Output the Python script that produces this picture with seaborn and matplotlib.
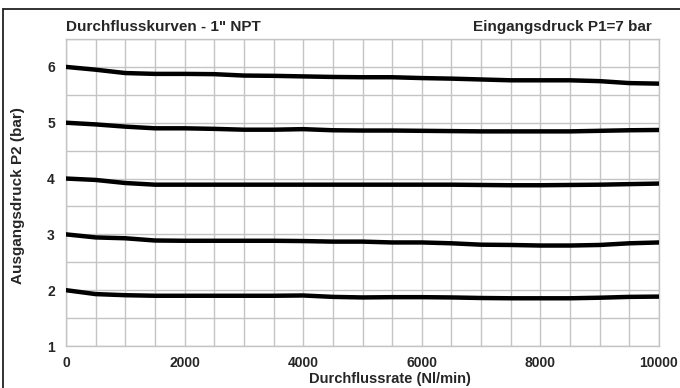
import numpy as np
import pandas as pd
import matplotlib
matplotlib.use("Agg")
import matplotlib.pyplot as plt
from matplotlib.lines import Line2D
from matplotlib.ticker import MultipleLocator
import seaborn as sns

flow = [0, 500, 1000, 1500, 2000, 2500, 3000, 3500, 4000, 4500, 5000,
        5500, 6000, 6500, 7000, 7500, 8000, 8500, 9000, 9500, 10000]
p2_6 = [6.00, 5.95, 5.89, 5.875, 5.875, 5.87, 5.845, 5.84, 5.83, 5.82, 5.815,
        5.815, 5.80, 5.79, 5.775, 5.76, 5.76, 5.76, 5.745, 5.71, 5.70]
p2_5 = [5.00, 4.97, 4.93, 4.90, 4.90, 4.89, 4.875, 4.875, 4.885, 4.865, 4.86,
        4.86, 4.855, 4.85, 4.845, 4.845, 4.845, 4.845, 4.855, 4.865, 4.87]
p2_4 = [4.00, 3.975, 3.92, 3.89, 3.89, 3.89, 3.89, 3.89, 3.89, 3.89, 3.89,
        3.89, 3.89, 3.89, 3.885, 3.88, 3.88, 3.885, 3.89, 3.90, 3.91]
p2_3 = [3.00, 2.945, 2.93, 2.89, 2.885, 2.885, 2.885, 2.885, 2.88, 2.87, 2.87,
        2.855, 2.855, 2.84, 2.815, 2.81, 2.80, 2.80, 2.81, 2.84, 2.855]
p2_2 = [2.00, 1.93, 1.91, 1.90, 1.90, 1.90, 1.90, 1.90, 1.905, 1.88, 1.87,
        1.875, 1.875, 1.87, 1.86, 1.855, 1.855, 1.855, 1.865, 1.88, 1.885]
series_names = ["6 bar", "5 bar", "4 bar", "3 bar", "2 bar"]
series_vals = [p2_6, p2_5, p2_4, p2_3, p2_2]

title_left = 'Durchflusskurven - 1" NPT'
title_right = "Eingangsdruck P1=7 bar"
xlabel = "Durchflussrate (Nl/min)"
ylabel = "Ausgangsdruck P2 (bar)"

df = pd.DataFrame({
    "flow": np.tile(flow, len(series_vals)),
    "p2": np.concatenate(series_vals),
    "curve": np.repeat(series_names, len(flow)),
})

sns.set_theme(style="white")
plt.rcParams["font.family"] = ["Liberation Sans", "DejaVu Sans"]
plt.rcParams["font.weight"] = "bold"

W, H = 680, 388
fig = plt.figure(figsize=(W / 100, H / 100), dpi=100)
ax = fig.add_axes([66 / W, 1 - 346 / H, (659 - 66) / W, (346 - 39) / H])

sns.lineplot(data=df, x="flow", y="p2", hue="curve", units="curve", estimator=None,
             palette=["black"] * len(series_names), linewidth=3.2, legend=False,
             ax=ax, solid_capstyle="round", zorder=3)

grid_col = "#c4c4c4"
ax.set_xlim(0, 10000)
ax.set_ylim(1, 6.5)
ax.xaxis.set_major_locator(MultipleLocator(2000))
ax.xaxis.set_minor_locator(MultipleLocator(500))
ax.yaxis.set_major_locator(MultipleLocator(1))
ax.yaxis.set_minor_locator(MultipleLocator(0.5))
ax.grid(which="both", color=grid_col, linewidth=1.0)
for s in ax.spines.values():
    s.set_color(grid_col)
    s.set_linewidth(1.0)
ax.tick_params(which="major", length=3, color=grid_col, labelsize=10, pad=5)
ax.tick_params(axis="x", which="major", pad=4)
ax.tick_params(which="minor", length=0)
for lab in ax.get_xticklabels() + ax.get_yticklabels():
    lab.set_fontweight("bold")
ax.set_xlabel(xlabel, fontsize=10.5, fontweight="bold")
ax.set_ylabel(ylabel, fontsize=11, fontweight="bold")
ax.xaxis.set_label_coords((390 - 66) / 593, (346 - 372) / 307)
ax.yaxis.set_label_coords((25 - 66) / 593, 0.49)

fig.text(66 / W, 1 - 27 / H, title_left, fontsize=11, fontweight="bold",
         ha="left", va="center")
fig.text(652 / W, 1 - 27 / H, title_right, fontsize=11, fontweight="bold",
         ha="right", va="center")

fig.add_artist(Line2D([3 / W, 3 / W], [0, 1 - 9 / H], transform=fig.transFigure,
                      color="#222222", linewidth=1.3))
fig.add_artist(Line2D([3 / W, 1], [1 - 9 / H, 1 - 9 / H], transform=fig.transFigure,
                      color="#222222", linewidth=1.3))

fig.savefig("out.png", dpi=100)
